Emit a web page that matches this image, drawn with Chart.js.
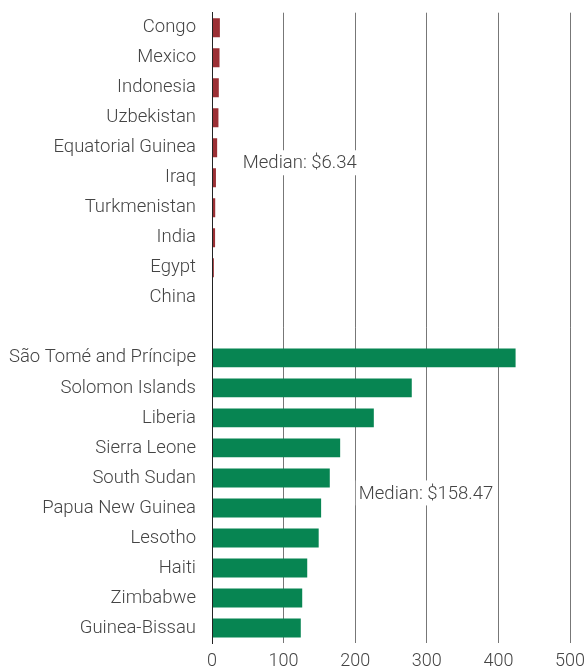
<!DOCTYPE html>
<html>
<head>
<meta charset="utf-8">
<script src="https://cdn.jsdelivr.net/npm/chart.js@4"></script>
<style>
html,body{margin:0;padding:0;background:#fff;}
#wrap{width:588px;height:670px;}
</style>
</head>
<body>
<div id="wrap"><canvas id="c" width="588" height="670"></canvas></div>
<script>
const lowCountries = ['Congo','Mexico','Indonesia','Uzbekistan','Equatorial Guinea','Iraq','Turkmenistan','India','Egypt','China'];
const lowValues = [11, 10.5, 9.5, 9, 7.2, 5.5, 4.5, 4.3, 2.6, 1];
const highCountries = ['São Tomé and Príncipe','Solomon Islands','Liberia','Sierra Leone','South Sudan','Papua New Guinea','Lesotho','Haiti','Zimbabwe','Guinea-Bissau'];
const highValues = [424, 279, 226, 179, 164.5, 152.4, 149, 133, 126, 124];
const xTicks = [0, 100, 200, 300, 400, 500];
const medianLabels = ['Median: $6.34', 'Median: $158.47'];

const RED = '#9b3035', GREEN = '#078552', TXT = '#444';
const labels = [...lowCountries, '', ...highCountries];
const values = [...lowValues, null, ...highValues];
const colors = [...lowValues.map(() => RED), 'rgba(0,0,0,0)', ...highValues.map(() => GREEN)];
const FONT = 'Roboto';

const medianPlugin = {
  id: 'medianText',
  afterDatasetsDraw(chart) {
    const ctx = chart.ctx, x = chart.scales.x, y = chart.scales.y;
    const items = [
      {text: medianLabels[0], vx: 43, between: [4, 5]},
      {text: medianLabels[1], vx: 205, between: [15, 16]}
    ];
    ctx.save();
    ctx.font = '300 18.5px ' + FONT;
    ctx.textBaseline = 'middle';
    ctx.textAlign = 'left';
    items.forEach(it => {
      const px = x.getPixelForValue(it.vx);
      const py = (y.getPixelForValue(it.between[0]) + y.getPixelForValue(it.between[1])) / 2;
      const w = ctx.measureText(it.text).width;
      ctx.fillStyle = '#fff';
      ctx.fillRect(px - 3, py - 12.5, w + 6, 25);
      ctx.fillStyle = TXT;
      ctx.fillText(it.text, px, py + 1);
    });
    ctx.restore();
  }
};

new Chart(document.getElementById('c'), {
  type: 'bar',
  data: {
    labels: labels,
    datasets: [{
      data: values,
      backgroundColor: colors,
      borderWidth: 0,
      categoryPercentage: 1,
      barPercentage: 0.63
    }]
  },
  options: {
    indexAxis: 'y',
    responsive: false,
    animation: false,
    events: [],
    layout: {padding: {top: 12.7, right: 18, left: 0, bottom: 0}},
    plugins: {legend: {display: false}, tooltip: {enabled: false}},
    scales: {
      x: {
        min: 0, max: 500,
        afterBuildTicks(s) { s.ticks = xTicks.map(v => ({value: v})); },
        afterFit(s) { s.height = 27; s.paddingLeft = 0; s.paddingRight = 0; },
        grid: {
          color: ctx => ctx.tick && ctx.tick.value === 0 ? '#222' : '#777',
          lineWidth: 1,
          drawTicks: false
        },
        border: {display: false},
        ticks: {
          padding: 8,
          color: TXT,
          font: {family: FONT, size: 18, weight: '300'}
        }
      },
      y: {
        grid: {display: false, drawTicks: false},
        border: {display: true, color: '#222', width: 1, z: 1},
        afterFit(s) { s.width = 212; s.paddingTop = 0; s.paddingBottom = 0; },
        ticks: {
          padding: 16,
          color: TXT,
          autoSkip: false,
          font: {family: FONT, size: 18.5, weight: '300'}
        }
      }
    }
  },
  plugins: [medianPlugin]
});
</script>
</body>
</html>
